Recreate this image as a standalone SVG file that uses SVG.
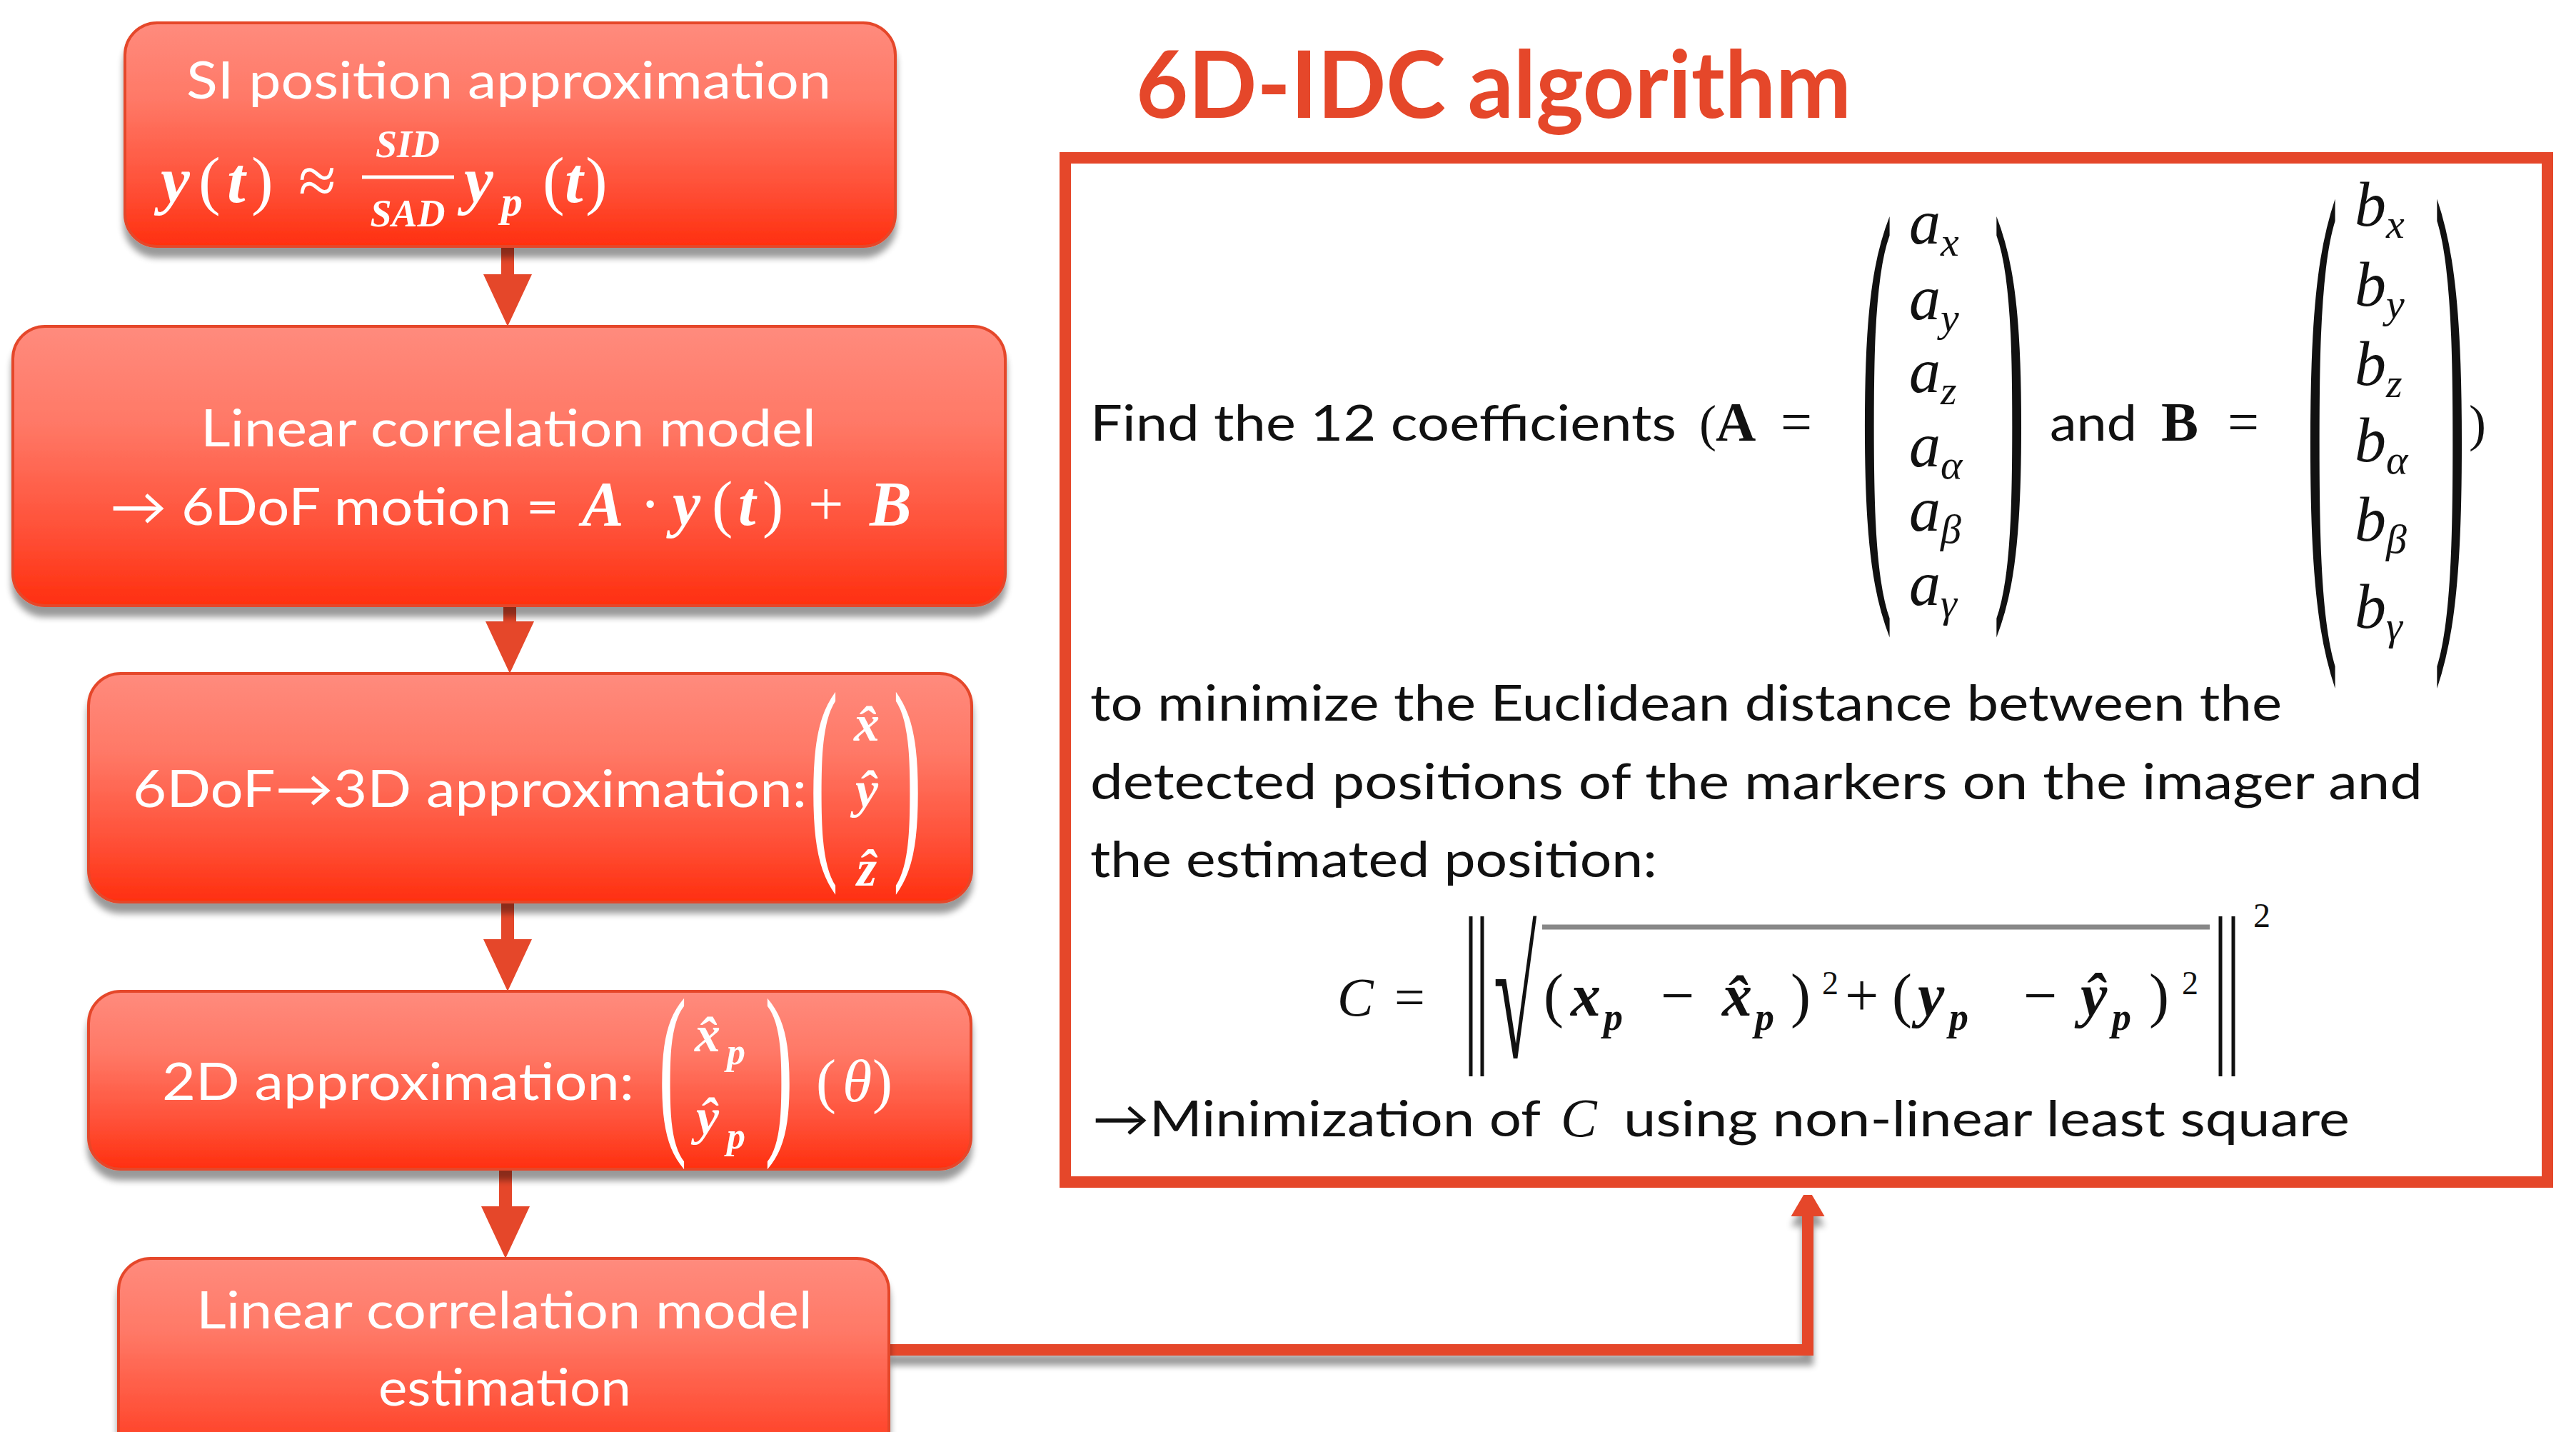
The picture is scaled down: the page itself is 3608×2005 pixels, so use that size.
<svg xmlns="http://www.w3.org/2000/svg" width="3608" height="2005" viewBox="0 0 3608 2005">
<defs>
<linearGradient id="boxGrad" x1="0" y1="0" x2="0" y2="1">
<stop offset="0" stop-color="#FF8B7D"/>
<stop offset="0.35" stop-color="#FF7866"/>
<stop offset="0.75" stop-color="#FF4E35"/>
<stop offset="1" stop-color="#FF2F0F"/>
</linearGradient>
<filter id="shadow" x="-5%" y="-10%" width="110%" height="130%">
<feGaussianBlur in="SourceAlpha" stdDeviation="5"/>
<feOffset dx="0" dy="14" result="b"/>
<feComponentTransfer><feFuncA type="linear" slope="0.4"/></feComponentTransfer>
<feMerge><feMergeNode/><feMergeNode in="SourceGraphic"/></feMerge>
</filter>
<marker id="ahBig" markerUnits="userSpaceOnUse" markerWidth="73" markerHeight="68" viewBox="0 0 73 68" refX="13" refY="34" orient="auto">
<path d="M0,0 L73,34 L0,68 z" fill="#E5472A"/>
</marker>
<marker id="ahSmall" markerUnits="userSpaceOnUse" markerWidth="40" markerHeight="47" viewBox="0 0 40 47" refX="10" refY="23.5" orient="auto">
<path d="M0,0 L40,23.5 L0,47 z" fill="#E5472A"/>
</marker>
</defs>
<style>
.box { fill: url(#boxGrad); stroke: #E5472A; stroke-width: 4; }
.bt { font-family: Lato, "Liberation Sans", sans-serif; font-size: 72px; fill: #FFFFFF; }
.mw { font-family: "Liberation Serif", serif; font-style: italic; font-weight: bold; fill: #FFFFFF; }
.uw { font-family: "Liberation Serif", serif; fill: #FFFFFF; }
.up { font-style: normal; font-weight: normal; }
.pt { font-family: Lato, "Liberation Sans", sans-serif; font-size: 70px; fill: #111111; }
.mk { font-family: "Liberation Serif", serif; font-style: italic; fill: #111111; }
.mkb { font-family: "Liberation Serif", serif; font-style: italic; font-weight: bold; fill: #111111; }
.uk { font-family: "Liberation Serif", serif; fill: #111111; }
.conn { fill: none; stroke: #E5472A; stroke-width: 18; }
</style>
<rect width="3608" height="2005" fill="#FFFFFF"/>

<g id="connectors">
<line class="conn" x1="711" y1="345" x2="711" y2="397" marker-end="url(#ahBig)"/>
<line class="conn" x1="714" y1="848" x2="714" y2="883" marker-end="url(#ahBig)"/>
<line class="conn" x1="711" y1="1263" x2="711" y2="1328" marker-end="url(#ahBig)"/>
<line class="conn" x1="708" y1="1637" x2="708" y2="1702" marker-end="url(#ahBig)"/>
<path class="conn" filter="url(#shadow)" style="stroke-width:16" d="M1245,1890 L2532,1890 L2532,1693" marker-end="url(#ahSmall)"/>
</g>

<g id="node-si">
<rect class="box" filter="url(#shadow)" x="175" y="32" width="1079" height="313" rx="45"/>
<text class="bt" x="261" y="138" textLength="903" lengthAdjust="spacingAndGlyphs">SI position approximation</text>
<text class="mw" font-size="92" y="283"><tspan x="225">y</tspan><tspan class="up" x="278">(</tspan><tspan x="318">t</tspan><tspan class="up" x="352">)</tspan></text>
<text class="uw" font-size="96" x="418" y="285">≈</text>
<text class="mw" font-size="54" x="571" y="220" text-anchor="middle">SID</text>
<line x1="507" y1="248" x2="636" y2="248" stroke="#FFFFFF" stroke-width="5"/>
<text class="mw" font-size="54" x="571" y="317" text-anchor="middle">SAD</text>
<text class="mw" font-size="92" y="283"><tspan x="650">y</tspan><tspan x="702" y="302" font-size="60">p</tspan><tspan class="up" x="760" y="283">(</tspan><tspan x="791">t</tspan><tspan class="up" x="820">)</tspan></text>
</g>

<g id="node-linear">
<rect class="box" filter="url(#shadow)" x="18" y="457" width="1390" height="391" rx="45"/>
<text class="bt" x="281" y="625" textLength="862" lengthAdjust="spacingAndGlyphs">Linear correlation model</text>
<text class="bt" x="154" y="735" textLength="629" lengthAdjust="spacingAndGlyphs">→ 6DoF motion =</text>
<text class="mw" font-size="88" y="735"><tspan x="815">A</tspan><tspan class="up" x="896">·</tspan><tspan x="942">y</tspan><tspan class="up" x="997">(</tspan><tspan x="1034">t</tspan><tspan class="up" x="1068">)</tspan><tspan class="up" x="1132">+</tspan><tspan x="1218">B</tspan></text>
</g>

<g id="node-3d">
<rect class="box" filter="url(#shadow)" x="124" y="943" width="1237" height="320" rx="45"/>
<text class="bt" x="186" y="1130" textLength="944" lengthAdjust="spacingAndGlyphs">6DoF→3D approximation:</text>
<text class="uw" font-size="100" transform="translate(1134,1186) scale(1.2,3.13)">(</text>
<text class="uw" font-size="100" transform="translate(1251,1186) scale(1.2,3.13)">)</text>
<text class="mw" font-size="72" x="1196" y="1037">x̂</text>
<text class="mw" font-size="72" x="1198" y="1130">ŷ</text>
<text class="mw" font-size="72" x="1200" y="1240">ẑ</text>
</g>

<g id="node-2d">
<rect class="box" filter="url(#shadow)" x="124" y="1388" width="1236" height="249" rx="45"/>
<text class="bt" x="227" y="1540" textLength="661" lengthAdjust="spacingAndGlyphs">2D approximation:</text>
<text class="uw" font-size="100" transform="translate(922,1581) scale(1.2,2.64)">(</text>
<text class="uw" font-size="100" transform="translate(1071,1581) scale(1.2,2.64)">)</text>
<text class="mw" font-size="72" x="973" y="1472">x̂<tspan x="1018" y="1490" font-size="52">p</tspan></text>
<text class="mw" font-size="72" x="975" y="1588">ŷ<tspan x="1018" y="1608" font-size="52">p</tspan></text>
<text class="uw" font-size="84" y="1542"><tspan x="1143">(</tspan><tspan x="1180" font-style="italic">θ</tspan><tspan x="1222">)</tspan></text>
</g>

<g id="node-estimation">
<rect class="box" filter="url(#shadow)" x="166" y="1762" width="1079" height="300" rx="45"/>
<text class="bt" x="275" y="1860" textLength="863" lengthAdjust="spacingAndGlyphs">Linear correlation model</text>
<text class="bt" x="530" y="1968" textLength="354" lengthAdjust="spacingAndGlyphs">estimation</text>
</g>

<g id="node-idc">
<text x="1591" y="165" font-family="Lato, 'Liberation Sans', sans-serif" font-weight="bold" font-size="130" fill="#E5472A" textLength="1002" lengthAdjust="spacingAndGlyphs">6D-IDC algorithm</text>
<rect x="1492" y="221" width="2076" height="1434" fill="#FFFFFF" stroke="#E5472A" stroke-width="16"/>

<text class="pt" x="1527" y="617" textLength="821" lengthAdjust="spacingAndGlyphs">Find the 12 coefficients</text>
<text class="uk" font-size="72" x="2380" y="617">(</text>
<text class="uk" font-size="78" font-weight="bold" x="2403" y="617">A</text>
<text class="uk" font-size="78" x="2494" y="617">=</text>
<text class="uk" font-size="100" transform="translate(2606,754) scale(1.35,6.5)">(</text>
<text class="uk" font-size="100" transform="translate(2792,754) scale(1.35,6.5)">)</text>
<g class="mk" font-size="88">
<text x="2674" y="341">a<tspan font-size="58" dy="17">x</tspan></text>
<text x="2674" y="447">a<tspan font-size="58" dy="17">y</tspan></text>
<text x="2674" y="549">a<tspan font-size="58" dy="17">z</tspan></text>
<text x="2674" y="653">a<tspan font-size="58" dy="17">α</tspan></text>
<text x="2674" y="743">a<tspan font-size="58" dy="17">β</tspan></text>
<text x="2674" y="847">a<tspan font-size="58" dy="17">γ</tspan></text>
</g>
<text class="pt" x="2871" y="617" textLength="122" lengthAdjust="spacingAndGlyphs">and</text>
<text class="uk" font-size="78" font-weight="bold" x="3027" y="617">B</text>
<text class="uk" font-size="78" x="3120" y="617">=</text>
<text class="uk" font-size="100" transform="translate(3230,803) scale(1.35,7.56)">(</text>
<text class="uk" font-size="100" transform="translate(3409,803) scale(1.35,7.56)">)</text>
<g class="mk" font-size="88">
<text x="3298" y="316">b<tspan font-size="58" dy="17">x</tspan></text>
<text x="3298" y="428">b<tspan font-size="58" dy="17">y</tspan></text>
<text x="3298" y="539">b<tspan font-size="58" dy="17">z</tspan></text>
<text x="3298" y="646">b<tspan font-size="58" dy="17">α</tspan></text>
<text x="3298" y="757">b<tspan font-size="58" dy="17">β</tspan></text>
<text x="3298" y="879">b<tspan font-size="58" dy="17">γ</tspan></text>
</g>
<text class="uk" font-size="72" x="3458" y="617">)</text>

<text class="pt" x="1527" y="1009" textLength="1669" lengthAdjust="spacingAndGlyphs">to minimize the Euclidean distance between the</text>
<text class="pt" x="1527" y="1119" textLength="1866" lengthAdjust="spacingAndGlyphs">detected positions of the markers on the imager and</text>
<text class="pt" x="1527" y="1228" textLength="794" lengthAdjust="spacingAndGlyphs">the estimated position:</text>

<text class="mk" font-size="76" x="1873" y="1422">C</text>
<text class="uk" font-size="76" x="1953" y="1422">=</text>
<line x1="2060" y1="1283" x2="2060" y2="1507" stroke="#111" stroke-width="5"/>
<line x1="2076" y1="1283" x2="2076" y2="1507" stroke="#111" stroke-width="5"/>
<text class="uk" font-size="100" transform="translate(2092,1480) scale(1.1,2.5)" font-family="'DejaVu Serif', serif">√</text>
<line x1="2160" y1="1298" x2="3095" y2="1298" stroke="#888888" stroke-width="7"/>
<text class="mkb" font-size="84" y="1422"><tspan class="up" x="2162">(</tspan><tspan x="2200">x</tspan><tspan x="2246" y="1442" font-size="54">p</tspan><tspan class="up" x="2326" y="1422">−</tspan><tspan x="2412">x̂</tspan><tspan x="2458" y="1442" font-size="54">p</tspan><tspan class="up" x="2508" y="1422">)</tspan><tspan class="up" x="2552" y="1392" font-size="46">2</tspan><tspan class="up" x="2584" y="1422">+</tspan><tspan class="up" x="2650">(</tspan><tspan x="2686">y</tspan><tspan x="2730" y="1442" font-size="54">p</tspan><tspan class="up" x="2834" y="1422">−</tspan><tspan x="2914">ŷ</tspan><tspan x="2958" y="1442" font-size="54">p</tspan><tspan class="up" x="3010" y="1422">)</tspan><tspan class="up" x="3056" y="1392" font-size="46">2</tspan></text>
<line x1="3110" y1="1283" x2="3110" y2="1507" stroke="#111" stroke-width="5"/>
<line x1="3128" y1="1283" x2="3128" y2="1507" stroke="#111" stroke-width="5"/>
<text class="uk" font-size="48" x="3156" y="1298">2</text>

<text class="pt" x="1530" y="1591" textLength="628" lengthAdjust="spacingAndGlyphs">→Minimization of</text>
<text class="mk" font-size="76" x="2186" y="1591">C</text>
<text class="pt" x="2274" y="1591" textLength="1017" lengthAdjust="spacingAndGlyphs">using non-linear least square</text>
</g>
</svg>
